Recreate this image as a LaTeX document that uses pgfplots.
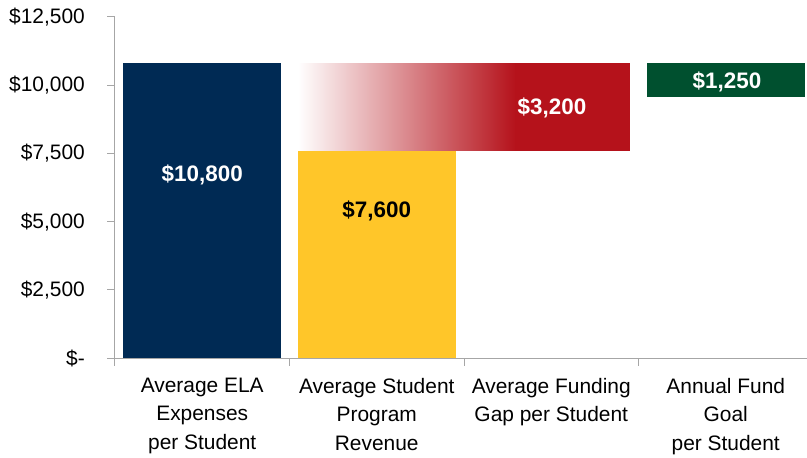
\documentclass[border=0pt]{standalone}
\usepackage{pgfplots}
\pgfplotsset{compat=1.18}
\usepackage{fontspec}
\setmainfont{Liberation Sans}
\definecolor{navy}{HTML}{002A54}
\definecolor{gold}{HTML}{FFC629}
\definecolor{crimson}{HTML}{B5121B}
\definecolor{forest}{HTML}{00502F}
\definecolor{axgray}{HTML}{A6A6A6}
\begin{document}
\begin{tikzpicture}
\begin{axis}[name=ax, at={(0,0)}, anchor=south west,
  width=698bp, height=341bp, scale only axis,
  xmin=-0.5, xmax=3.5, ymin=0, ymax=12500,
  scaled y ticks=false,
  axis x line*=bottom, axis y line*=left,
  axis line style={draw=axgray, line width=1bp},
  major tick length=0pt,
  ytick={0,2500,5000,7500,10000,12500},
  yticklabels={{\$-},{\$2,500},{\$5,000},{\$7,500},{\$10,000},{\$12,500}},
  xtick={0,1,2,3},
  xticklabels={{Average ELA\\Expenses\\per Student},{Average Student\\Program\\Revenue},{Average Funding\\Gap per Student},{Annual Fund\\Goal\\per Student}},
  xticklabel style={align=center, anchor=north, inner sep=0pt, font=\fontsize{21}{28.5}\selectfont, yshift=-20bp},
  yticklabel style={anchor=east, inner sep=0pt, font=\fontsize{21}{25}\selectfont, xshift=-30bp},
  clip=false,
]
\addplot[fill=navy, draw=none] coordinates {(-0.4525,0)(0.4525,0)(0.4525,10800)(-0.4525,10800)} -- cycle;
\addplot[fill=gold, draw=none] coordinates {(0.5475,0)(1.4525,0)(1.4525,7600)(0.5475,7600)} -- cycle;
\addplot[draw=none, left color=white, middle color=crimson!30!white, right color=crimson] coordinates {(0.5475,7600)(1.795,7600)(1.795,10800)(0.5475,10800)} -- cycle;
\addplot[fill=crimson, draw=none] coordinates {(1.79,7600)(2.4525,7600)(2.4525,10800)(1.79,10800)} -- cycle;
\addplot[fill=forest, draw=none] coordinates {(2.5475,9550)(3.4525,9550)(3.4525,10800)(2.5475,10800)} -- cycle;
\node[text=white, font=\bfseries\fontsize{22.5}{26}\selectfont] at (axis cs:0,6700) {\$10,800};
\node[text=black, font=\bfseries\fontsize{22.5}{26}\selectfont] at (axis cs:1,5390) {\$7,600};
\node[text=white, font=\bfseries\fontsize{22.5}{26}\selectfont] at (axis cs:2.004,9165) {\$3,200};
\node[text=white, font=\bfseries\fontsize{22.5}{26}\selectfont] at (axis cs:3.007,10120) {\$1,250};
\pgfplotsinvokeforeach{-0.5,0.5,1.5,2.5,3.5}{\draw[axgray, line width=1bp] (axis cs:#1,0) -- (axis cs:#1,-293);}
\pgfplotsinvokeforeach{0,2500,5000,7500,10000,12500}{\draw[axgray, line width=1bp] (axis cs:-0.5,#1) -- (axis cs:-0.5458,#1);}
\end{axis}
\pgfresetboundingbox
\path ([shift={(-115bp,-100bp)}]ax.south west) rectangle ([shift={(692bp,358bp)}]ax.south west);
\end{tikzpicture}
\end{document}
